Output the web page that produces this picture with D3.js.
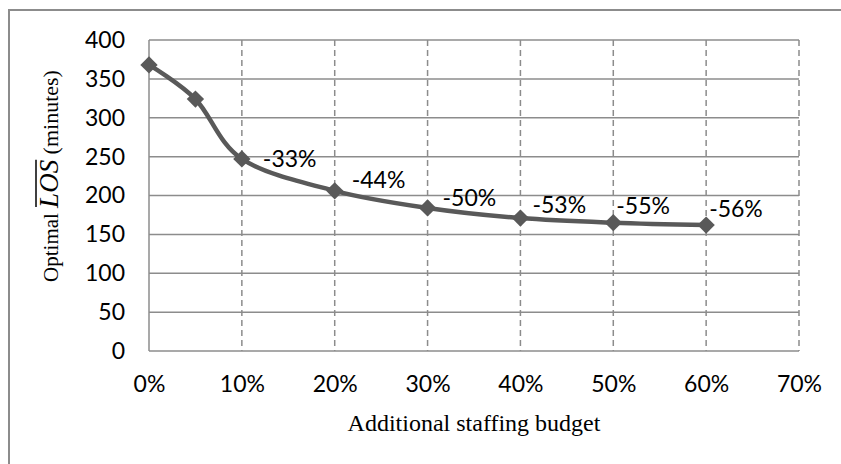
<!DOCTYPE html>
<html>
<head>
<meta charset="utf-8">
<script src="https://cdn.jsdelivr.net/npm/d3@7"></script>
<style>
  body { margin: 0; background: #fff; }
  .tick-label { font-family: Lato, "Open Sans", sans-serif; font-size: 23px; fill: #000; }
  .axis-title { font-family: "Liberation Serif", "DejaVu Serif", serif; font-size: 21px; fill: #000; }
</style>
</head>
<body>
<div id="chart"></div>
<script>
// chart values
var budget = [0, 0.05, 0.10, 0.20, 0.30, 0.40, 0.50, 0.60];
var losMinutes = [368, 324, 247, 206, 184, 171, 165, 162];
var changeLabels = ["", "", "-33%", "-44%", "-50%", "-53%", "-55%", "-56%"];
var xTicks = [0, 0.1, 0.2, 0.3, 0.4, 0.5, 0.6, 0.7];
var yTicks = [0, 50, 100, 150, 200, 250, 300, 350, 400];

// label nudges (layout only), px from the marker
var labelDx = [0, 0, 21, 17, 15, 12, 3, 3];
var labelDy = [0, 0, 0, -11, -10, -13, -17, -16];

var svgWidth = 841;
var svgHeight = 464;
var margin = { top: 40, right: 42, bottom: 113, left: 149 };
var width = svgWidth - margin.left - margin.right;
var height = svgHeight - margin.top - margin.bottom;

var svg = d3.select("#chart").append("svg")
  .attr("width", svgWidth)
  .attr("height", svgHeight);

// outer frame
svg.append("rect")
  .attr("x", 9).attr("y", 10)
  .attr("width", 900).attr("height", 600)
  .attr("fill", "none")
  .attr("stroke", "#8c8c8c")
  .attr("stroke-width", 2);

var chartGroup = svg.append("g")
  .attr("transform", `translate(${margin.left}, ${margin.top})`);

var xScale = d3.scaleLinear().domain([0, 0.7]).range([0, width]);
var yScale = d3.scaleLinear().domain([0, 400]).range([height, 0]);

// vertical dashed gridlines
chartGroup.append("g")
  .selectAll("line")
  .data(xTicks.slice(1))
  .enter()
  .append("line")
  .attr("x1", d => xScale(d)).attr("x2", d => xScale(d))
  .attr("y1", 0).attr("y2", height)
  .attr("stroke", "#8c8c8c")
  .attr("stroke-width", 1.5)
  .attr("stroke-dasharray", "6,4");

// horizontal gridlines
chartGroup.append("g")
  .selectAll("line")
  .data(yTicks)
  .enter()
  .append("line")
  .attr("x1", 0).attr("x2", width)
  .attr("y1", d => yScale(d)).attr("y2", d => yScale(d))
  .attr("stroke", "#8c8c8c")
  .attr("stroke-width", 1.5);

// y axis line
chartGroup.append("line")
  .attr("x1", 0).attr("x2", 0)
  .attr("y1", 0).attr("y2", height)
  .attr("stroke", "#8c8c8c")
  .attr("stroke-width", 1.5);

// axes (labels only)
var leftAxis = d3.axisLeft(yScale).tickValues(yTicks).tickSize(0).tickPadding(24);
var yAxis = chartGroup.append("g").call(leftAxis);
yAxis.select(".domain").remove();
yAxis.selectAll("text").attr("class", "tick-label").attr("font-size", null).attr("font-family", null);

var bottomAxis = d3.axisBottom(xScale).tickValues(xTicks).tickSize(0)
  .tickPadding(25).tickFormat(d3.format(".0%"));
var xAxis = chartGroup.append("g")
  .attr("transform", `translate(0, ${height})`)
  .call(bottomAxis);
xAxis.select(".domain").remove();
xAxis.selectAll("text").attr("class", "tick-label").attr("font-size", null).attr("font-family", null);

// line
var points = budget.map((b, i) => [b, losMinutes[i]]);
var line = d3.line()
  .x(d => xScale(d[0]))
  .y(d => yScale(d[1]))
  .curve(d3.curveCatmullRom.alpha(0));

chartGroup.append("path")
  .datum(points)
  .attr("d", line)
  .attr("fill", "none")
  .attr("stroke", "#595959")
  .attr("stroke-width", 4.5);

// diamond markers
chartGroup.selectAll(".marker")
  .data(points)
  .enter()
  .append("path")
  .attr("class", "marker")
  .attr("d", d3.symbol().type(d3.symbolSquare).size(150))
  .attr("transform", d => `translate(${xScale(d[0])}, ${yScale(d[1])}) rotate(45)`)
  .attr("fill", "#595959");

// change labels
chartGroup.selectAll(".change")
  .data(points)
  .enter()
  .append("text")
  .attr("class", "tick-label")
  .attr("x", (d, i) => xScale(d[0]) + labelDx[i])
  .attr("y", (d, i) => yScale(d[1]) + labelDy[i])
  .attr("dy", "0.35em")
  .text((d, i) => changeLabels[i]);

// x title
svg.append("text")
  .attr("class", "axis-title")
  .attr("x", margin.left + width / 2)
  .attr("y", 431)
  .attr("text-anchor", "middle")
  .style("font-size", "24px")
  .text("Additional staffing budget");

// y title with overlined italic LOS
var yTitleGroup = svg.append("g")
  .attr("transform", "translate(58, 176) rotate(-90)");
var yTitle = yTitleGroup.append("text")
  .attr("class", "axis-title")
  .attr("text-anchor", "middle");
yTitle.append("tspan").text("Optimal ");
yTitle.append("tspan").attr("font-style", "italic").style("font-size", "27px").text("LOS");
yTitle.append("tspan").style("font-size", "22px").text(" (minutes)");

var node = yTitle.node();
var start = node.getStartPositionOfChar(8).x;
var len = node.getSubStringLength(8, 3);
yTitleGroup.append("line")
  .attr("x1", start + 1).attr("x2", start + len)
  .attr("y1", -22).attr("y2", -22)
  .attr("stroke", "#000")
  .attr("stroke-width", 1.5);
</script>
</body>
</html>
